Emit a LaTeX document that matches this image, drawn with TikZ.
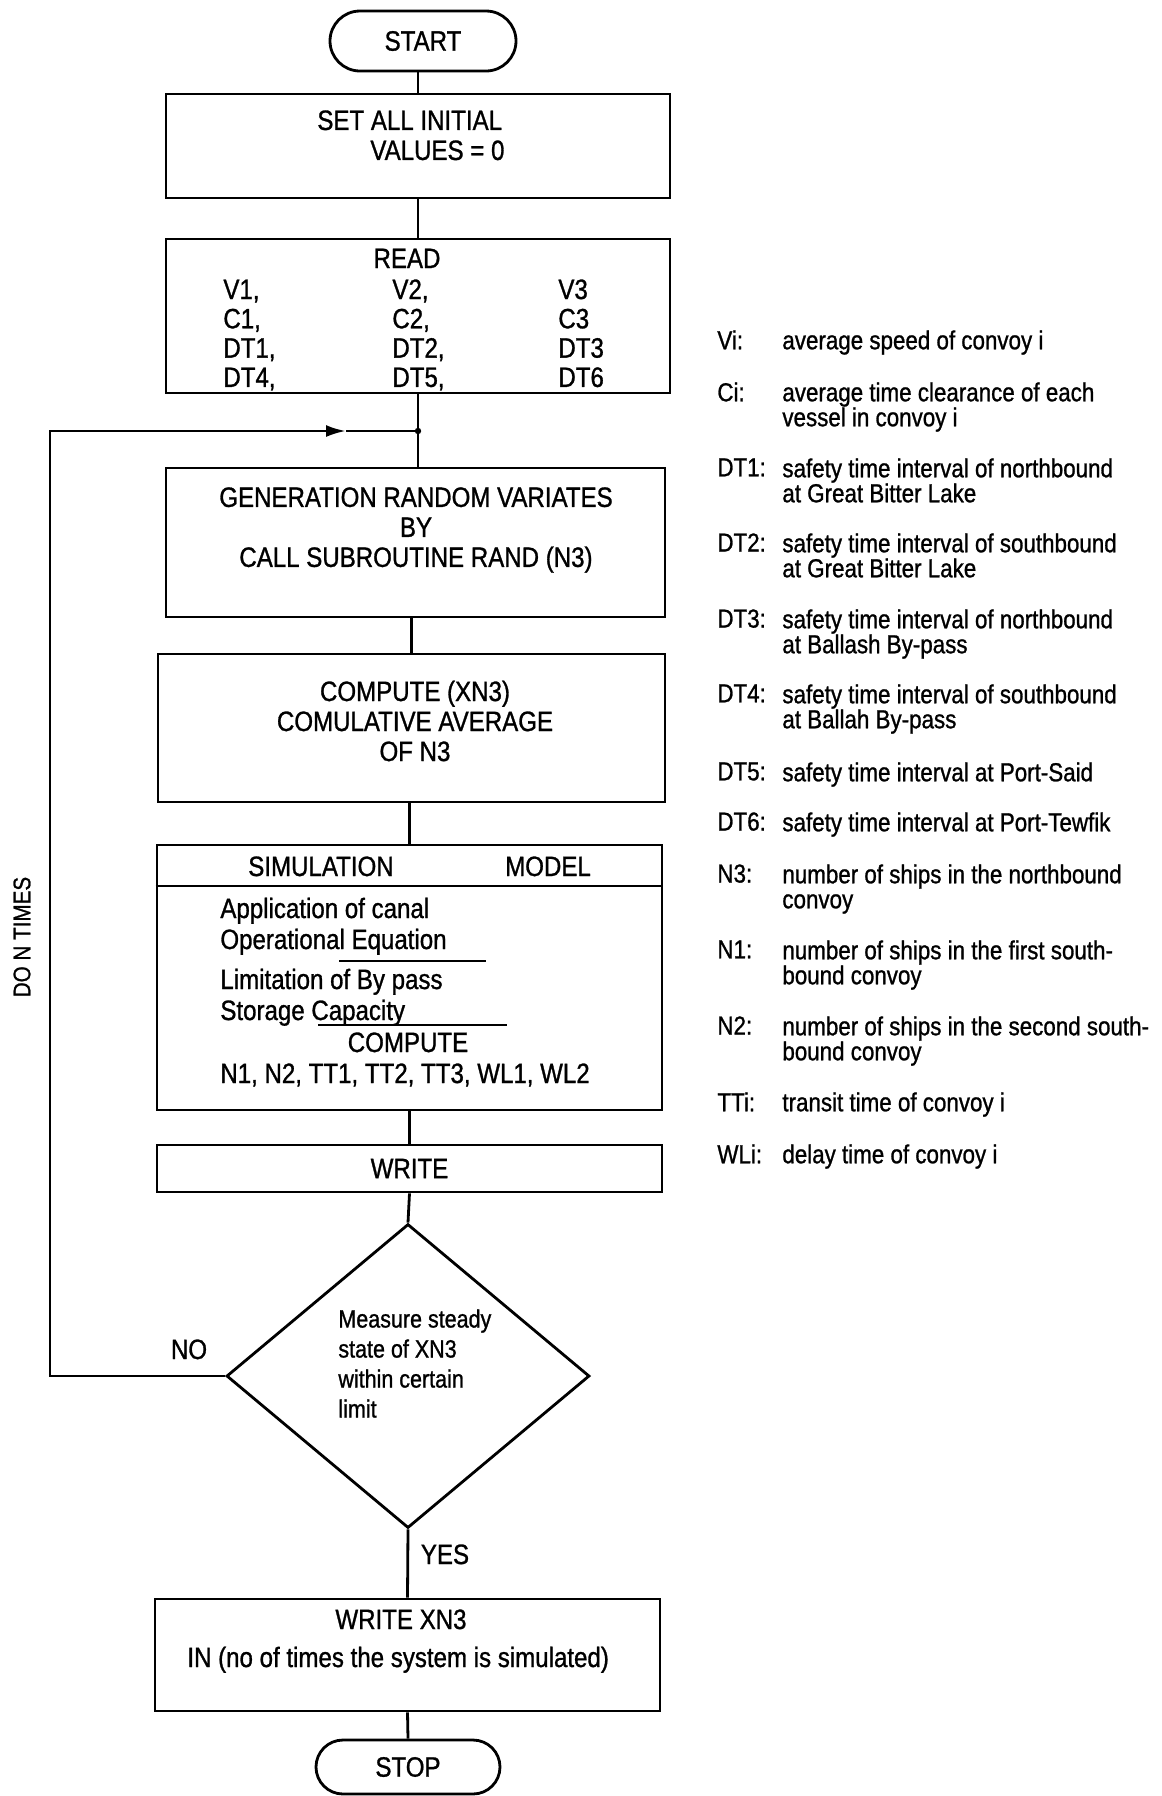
\documentclass[tikz,border=0pt]{standalone}
\usepackage{fontspec}
\setmainfont{Liberation Sans}[FakeStretch=0.86,FakeBold=1]
\usetikzlibrary{shapes.geometric,shapes.misc,arrows.meta}
\newcommand\chartfont{\fontsize{14}{15}\selectfont}
\newcommand\keyfont{\fontsize{13}{12.5}\selectfont}
\newcommand\decfont{\fontsize{12.5}{15}\selectfont}

\tikzset{
  box/.style={draw, line width=1.4pt, inner sep=0pt},
  term/.style={draw, line width=1.4pt, rounded rectangle, inner sep=0pt, font=\chartfont},
  decision/.style={draw, line width=1.4pt, diamond, inner sep=0pt},
  flow/.style={line width=1.4pt},
  txt/.style={inner sep=0pt, font=\chartfont},
  txtone/.style={inner sep=0pt, font=\chartfont, text height=10pt, text depth=0pt},
  dectxt/.style={inner sep=0pt, font=\decfont, align=left, anchor=north west},
  keytxt/.style={inner sep=0pt, font=\keyfont, align=left, anchor=north west}
}

\begin{document}
\begin{tikzpicture}[x=0.5pt,y=-0.5pt]
\useasboundingbox (0,0) rectangle (1162,1796);

% boxes of the chart
\node[term, minimum width=93pt, minimum height=30pt] (start) at (423,41) {START};
\node[box, minimum width=252pt, minimum height=52pt] (init) at (418,146) {};
\node[box, minimum width=252pt, minimum height=77pt] (read) at (418,316) {};
\node[box, minimum width=249.5pt, minimum height=74.5pt] (gen) at (415.5,542.5) {};
\node[box, minimum width=253.5pt, minimum height=74pt] (comp) at (411.5,728) {};
\node[box, minimum width=252.5pt, minimum height=132.5pt] (sim) at (409.5,977.5) {};
\node[box, minimum width=252.5pt, minimum height=23.5pt, font=\chartfont] (write) at (409.5,1168.5) {WRITE};
\node[decision, minimum width=181.5pt, minimum height=152pt] (dec) at (408,1376) {};
\node[box, minimum width=252.5pt, minimum height=56pt] (out) at (407.5,1655) {};
\node[term, minimum width=92pt, minimum height=27pt] (stop) at (408,1767) {STOP};

% texts in the boxes
\node[txt, anchor=north west, align=left] (initT) at (317,110) {SET ALL INITIAL\\\hspace*{26.5pt}VALUES = 0};
\node[txtone] (readT) at (407,258) {READ};
\foreach \ca/\cb/\cc [count=\r] in {{V1,}/{V2,}/V3, {C1,}/{C2,}/C3, {DT1,}/{DT2,}/DT3, {DT4,}/{DT5,}/DT6}
{
    \node[txtone, anchor=west] (rdA\r) at (223,{289+(\r-1)*29.3}) {\ca};
    \node[txtone, anchor=west] (rdB\r) at (392,{289+(\r-1)*29.3}) {\cb};
    \node[txtone, anchor=west] (rdC\r) at (558,{289+(\r-1)*29.3}) {\cc};
}
\node[txt, align=center] (genT) at (416,530) {GENERATION RANDOM VARIATES\\BY\\CALL SUBROUTINE RAND (N3)};
\node[txt, align=center] (compT) at (415,721) {COMPUTE (XN3)\\COMULATIVE AVERAGE\\OF N3};

% simulation model
\node[txtone] (simA) at (321,866) {SIMULATION};
\node[txtone] (simB) at (548,866) {MODEL};
\coordinate (hdr) at (0,886);
\draw[flow] (sim.west |- hdr) -- (sim.east |- hdr);
\foreach \t/\y [count=\i] in {Application of canal/908, Operational Equation/939, Limitation of By pass/979, Storage Capacity/1010, {N1, N2, TT1, TT2, TT3, WL1, WL2}/1073}
{
    \node[txtone, anchor=west] (simL\i) at (220,\y) {\t};
}
\node[txtone] (simC) at (408,1042) {COMPUTE};
\draw[line width=1pt] (339,961) -- (486,961);
\draw[line width=1pt] (318,1025) -- (507,1025);

\node[dectxt] (decT) at (338,1309) {Measure steady\\state of XN3\\within certain\\limit};
\node[txtone] (outA) at (401,1619) {WRITE XN3};
\node[txtone, anchor=west] (outB) at (187,1657) {IN (no of times the system is simulated)};

% connectors
\coordinate (join) at (418,431);
\coordinate (loopc) at (50,431);
\coordinate (tip) at (346,431);
\draw[flow] (init.north |- start.south) -- (init.north);
\draw[flow] (init.south) -- (read.north);
\draw[flow] (read.south) -- (join) -- (join |- gen.north);
\draw[flow] (comp.north |- gen.south) -- (comp.north);
\draw[flow] (sim.north |- comp.south) -- (sim.north);
\draw[flow] (sim.south) -- (write.north);
\draw[flow] (write.south) -- (dec.north);
\draw[flow] (dec.south) -- (out.north);
\draw[flow] (out.south) -- (stop.north);
\draw[flow, -{Latex[length=10pt,width=6pt]}] (dec.west) -| (loopc) -- (tip);
\draw[flow] (tip) -- (join);
\fill (join) circle[radius=1.6pt];

\node[txtone] (no) at (189,1349) {NO};
\node[txtone] (yes) at (445,1554) {YES};
\node[inner sep=0pt, font=\fontsize{12}{12}\selectfont, rotate=90] (times) at (22,937) {DO N TIMES};

% legend
\foreach \k/\d/\y [count=\i] in {
    Vi:/average speed of convoy i/340,
    Ci:/{average time clearance of each\\vessel in convoy i}/392,
    DT1:/{safety time interval of northbound\\at Great Bitter Lake}/468,
    DT2:/{safety time interval of southbound\\at Great Bitter Lake}/543,
    DT3:/{safety time interval of northbound\\at Ballash By-pass}/619,
    DT4:/{safety time interval of southbound\\at Ballah By-pass}/694,
    DT5:/safety time interval at Port-Said/772,
    DT6:/safety time interval at Port-Tewfik/822,
    N3:/{number of ships in the northbound\\convoy}/874,
    N1:/{number of ships in the first south-\\bound convoy}/950,
    N2:/{number of ships in the second south-\\bound convoy}/1026,
    TTi:/transit time of convoy i/1102,
    WLi:/delay time of convoy i/1154}
{
    \node[keytxt] (key\i) at (717,\y-10) {\k};
    \node[keytxt] (desc\i) at (782,\y-10) {\d};
}

\end{tikzpicture}
\end{document}
